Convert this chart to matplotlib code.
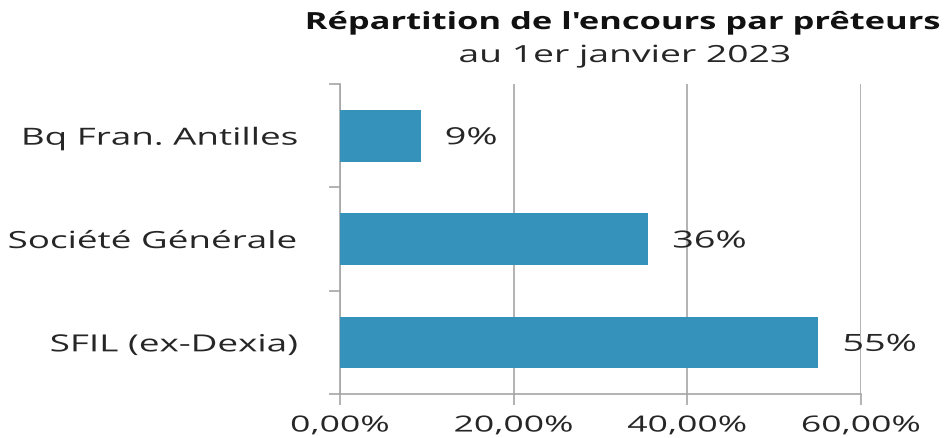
import matplotlib
matplotlib.use("Agg")
import matplotlib.pyplot as plt
from matplotlib.patheffects import AbstractPathEffect
from matplotlib.transforms import Affine2D, ScaledTranslation

categories = ["SFIL (ex-Dexia)", "Société Générale", "Bq Fran. Antilles"]
values = [55.1, 35.5, 9.3]
labels = ["55%", "36%", "9%"]
xticks = [0, 20, 40, 60]
xticklabels = ["0,00%", "20,00%", "40,00%", "60,00%"]
title = "Répartition de l'encours par prêteurs"
subtitle = "au 1er janvier 2023"

plt.rcParams['font.family'] = ['Open Sans', 'DejaVu Sans']


class Stretch(AbstractPathEffect):
    """Widen rendered glyphs horizontally around the text anchor."""
    def __init__(self, text, sx):
        super().__init__()
        self.text = text
        self.sx = sx

    def draw_path(self, renderer, gc, tpath, affine, rgbFace=None):
        x0 = self.text.get_transform().transform(self.text.get_position())[0]
        aff = affine + Affine2D().translate(-x0, 0).scale(self.sx, 1).translate(x0, 0)
        renderer.draw_path(gc, tpath, aff, rgbFace)


FS = 17
fig = plt.figure(figsize=(9.46, 4.39), dpi=100)
ax = fig.add_axes([340/946, 1-395/439, (861-340)/946, (395-85)/439])

bar_color = "#3592BA"
grid_color = "#A6A6A6"
text_color = "#262626"

ypos = list(range(len(categories)))
ax.barh(ypos, values, height=0.5, color=bar_color, zorder=3)
for y, v, lab in zip(ypos, values, labels):
    t = ax.text(v, y, lab,
                transform=ax.transData + ScaledTranslation(0.24, -0.025, fig.dpi_scale_trans),
                ha="left", va="center", fontsize=FS, color=text_color, zorder=4)
    t.set_path_effects([Stretch(t, 1.6)])

ax.set_xlim(0, 60)
ax.set_ylim(-0.5, 2.5)
ax.set_xticks(xticks)
ax.set_xticklabels(xticklabels, fontsize=16, color=text_color)
ax.set_yticks([-0.5, 0.5, 1.5, 2.5])
ax.set_yticklabels([])
ax.set_yticks(ypos, minor=True)
ax.set_yticklabels(categories, minor=True, fontsize=FS, color=text_color)
ax.tick_params(axis='y', which='minor', length=0, pad=30)
ax.tick_params(axis='y', which='major', length=8, color=grid_color, width=1.2)
ax.tick_params(axis='x', length=8, color=grid_color, width=1.2, pad=7.5)
for t in ax.get_xticklabels():
    t.set_path_effects([Stretch(t, 1.6)])
for t in ax.get_yticklabels(minor=True):
    t.set_path_effects([Stretch(t, 1.56)])

ax.grid(axis='x', color=grid_color, linewidth=1.2, zorder=0)
for s in ['top', 'right']:
    ax.spines[s].set_visible(False)
for s in ['left', 'bottom']:
    ax.spines[s].set_color(grid_color)
    ax.spines[s].set_linewidth(1.2)

t1 = fig.text(623/946, 1-24/439, title, ha="center", va="center", fontsize=FS,
              fontweight="bold", color="#111111")
t2 = fig.text(625/946, 1-57/439, subtitle, ha="center", va="center", fontsize=FS,
              color=text_color)
t1.set_path_effects([Stretch(t1, 1.46)])
t2.set_path_effects([Stretch(t2, 1.58)])

fig.savefig("out.png", dpi=100)
